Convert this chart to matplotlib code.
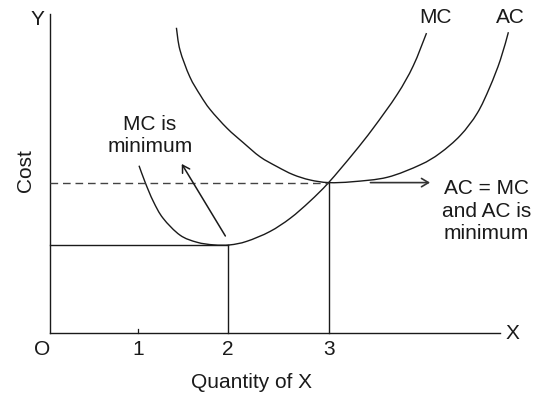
import matplotlib
matplotlib.use("Agg")
import matplotlib.pyplot as plt
from matplotlib.path import Path
from matplotlib.patches import PathPatch

# MC and AC curves, diagram units (origin O at 0,0)
mc_x = [1.00, 1.07, 1.16, 1.27, 1.46, 1.65, 1.84, 2.02, 2.21, 2.47, 2.70, 2.92,
        3.13, 3.41, 3.63, 3.90, 4.08, 4.23]
mc_y = [1.88, 1.69, 1.48, 1.29, 1.10, 1.02, 0.99, 0.99, 1.03, 1.14, 1.29, 1.48,
        1.69, 2.02, 2.30, 2.68, 3.00, 3.37]

ac_x = [1.42, 1.46, 1.57, 1.69, 1.80, 1.99, 2.17, 2.36, 2.55, 2.73, 2.92, 3.13,
        3.40, 3.79, 4.16, 4.38, 4.61, 4.80, 4.94, 5.06, 5.15]
ac_y = [3.43, 3.18, 2.88, 2.67, 2.51, 2.30, 2.14, 1.98, 1.87, 1.78, 1.72, 1.69,
        1.70, 1.75, 1.89, 2.02, 2.22, 2.47, 2.76, 3.07, 3.38]

tick_pos = [0.99, 2.00, 3.13]
tick_labels = ["1", "2", "3"]

mc_min = (2.00, 0.99)    # minimum point of MC
ac_min = (3.13, 1.69)    # AC = MC, minimum of AC

x_end = 5.06
y_end = 3.58

plt.rcParams['font.family'] = ['Liberation Sans', 'DejaVu Sans']
fs = 15
ink = '#1a1a1a'


def smooth_path(xs, ys):
    # Catmull-Rom through the read points, drawn as cubic Bezier segments
    pts = list(zip(xs, ys))
    verts = [pts[0]]
    codes = [Path.MOVETO]
    for i in range(len(pts) - 1):
        p0 = pts[i - 1] if i > 0 else pts[i]
        p1 = pts[i]
        p2 = pts[i + 1]
        p3 = pts[i + 2] if i + 2 < len(pts) else p2
        c1 = (p1[0] + (p2[0] - p0[0]) / 6, p1[1] + (p2[1] - p0[1]) / 6)
        c2 = (p2[0] - (p3[0] - p1[0]) / 6, p2[1] - (p3[1] - p1[1]) / 6)
        verts += [c1, c2, p2]
        codes += [Path.CURVE4] * 3
    return Path(verts, codes)


fig = plt.figure(figsize=(5.35, 3.96), dpi=100)
ax = fig.add_axes([0, 0, 1, 1])
ax.set_xlim(-0.562, 5.449)
ax.set_ylim(-0.708, 3.742)
ax.axis('off')

# axes
ax.plot([0, x_end], [0, 0], color=ink, lw=1.0)
ax.plot([0, 0], [0, y_end], color=ink, lw=1.0)
ax.plot([tick_pos[0], tick_pos[0]], [0, 0.045], color=ink, lw=0.9)

# curves
ax.add_patch(PathPatch(smooth_path(mc_x, mc_y), fill=False, edgecolor=ink, lw=1.0))
ax.add_patch(PathPatch(smooth_path(ac_x, ac_y), fill=False, edgecolor=ink, lw=1.0))

# guide lines
ax.plot([0, mc_min[0]], [mc_min[1], mc_min[1]], color=ink, lw=1.0)
ax.plot([mc_min[0], mc_min[0]], [0, mc_min[1]], color=ink, lw=1.0)
ax.plot([0, ac_min[0]], [ac_min[1], ac_min[1]], color='#444444', lw=1.0,
        dashes=(5.5, 3.5))
ax.plot([ac_min[0], ac_min[0]], [0, ac_min[1]], color=ink, lw=1.0)

# labels
ax.text(-0.146, 3.52, "Y", fontsize=fs, ha='center', va='center', color=ink)
ax.text(5.20, -0.01, "X", fontsize=fs, ha='center', va='center', color=ink)
ax.text(-0.09, -0.18, "O", fontsize=fs, ha='center', va='center', color=ink)
for p, lab in zip(tick_pos, tick_labels):
    ax.text(p, -0.18, lab, fontsize=fs, ha='center', va='center', color=ink)
ax.text(2.26, -0.56, "Quantity of X", fontsize=fs, ha='center', va='center',
        color=ink)
ax.text(-0.28, 1.83, "Cost", fontsize=fs, ha='center', va='center',
        rotation=90, color=ink)
ax.text(4.33, 3.54, "MC", fontsize=fs, ha='center', va='center', color=ink)
ax.text(5.17, 3.54, "AC", fontsize=fs, ha='center', va='center', color=ink)

# annotations
ax.text(1.12, 2.22, "MC is\nminimum", fontsize=fs, ha='center', va='center',
        linespacing=1.22, color=ink)
ax.annotate("", xy=(1.48, 1.90), xytext=(1.97, 1.09),
            arrowprops=dict(arrowstyle='->,head_length=0.5,head_width=0.3',
                            color=ink, lw=1.1, shrinkA=0, shrinkB=0))
ax.annotate("", xy=(4.27, 1.69), xytext=(3.60, 1.69),
            arrowprops=dict(arrowstyle='->,head_length=0.5,head_width=0.3',
                            color='#333333', lw=1.2, shrinkA=0, shrinkB=0))
ax.text(4.90, 1.37, "AC = MC\nand AC is\nminimum", fontsize=fs, ha='center',
        va='center', linespacing=1.22, color=ink)

fig.savefig("out.png", dpi=100)
